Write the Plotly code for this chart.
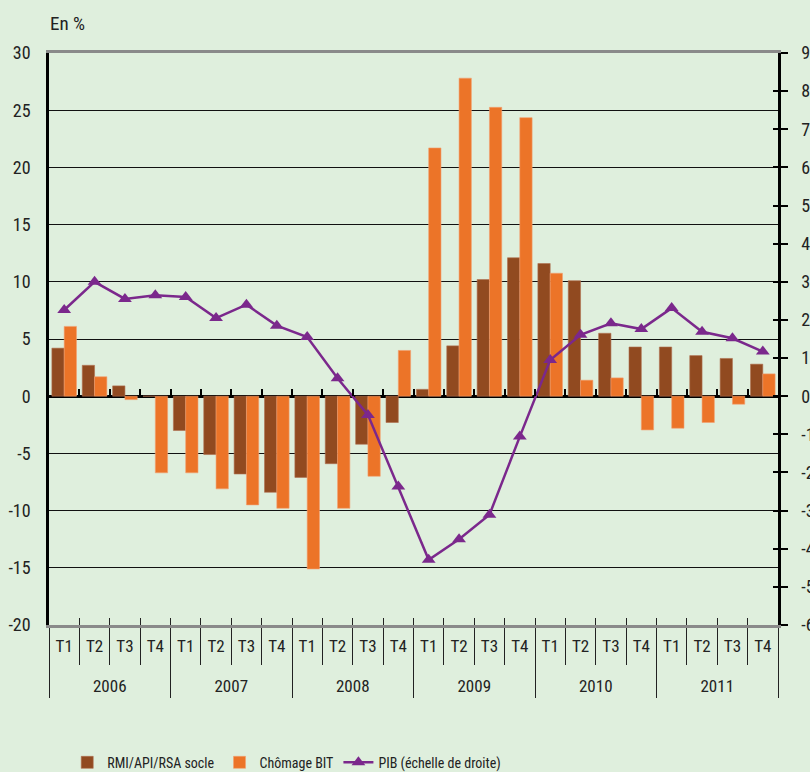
import plotly.graph_objects as go

years = ["2006", "2007", "2008", "2009", "2010", "2011"]
quarters = ["T1", "T2", "T3", "T4"]
x_years = [y for y in years for q in quarters]
x_quarters = [q for y in years for q in quarters]
year_text = {y: "<br>" + y for y in years}

rmi = [4.2, 2.7, 0.9, 0.0,
       -3.0, -5.1, -6.8, -8.4,
       -7.1, -5.9, -4.2, -2.3,
       0.6, 4.4, 10.2, 12.1,
       11.6, 10.1, 5.5, 4.3,
       4.3, 3.55, 3.3, 2.8]
chomage = [6.1, 1.7, -0.3, -6.7,
           -6.7, -8.1, -9.5, -9.8,
           -15.1, -9.8, -7.0, 4.0,
           21.7, 27.8, 25.25, 24.35,
           10.75, 1.4, 1.6, -2.95,
           -2.8, -2.3, -0.7, 1.95]
pib = [2.26, 3.0, 2.55, 2.65,
       2.6, 2.05, 2.4, 1.85,
       1.55, 0.47, -0.49, -2.37,
       -4.29, -3.75, -3.11, -1.06,
       0.95, 1.61, 1.91, 1.76,
       2.31, 1.69, 1.52, 1.17]

left_ticks = list(range(-20, 31, 5))
left_labels = [str(v) for v in left_ticks]
right_ticks = list(range(-6, 10, 1))
right_labels = [str(v) for v in right_ticks]

BG = "#DFEFDD"
BROWN = "#914A20"
ORANGE = "#EC7428"
PURPLE = "#7B288C"
FONT = "Roboto Condensed, Liberation Sans, Arial, sans-serif"

n = len(pib)
xcat = [[year_text[y] for y in x_years], x_quarters]
idx = list(range(n))

fig = go.Figure()
fig.add_trace(go.Bar(x=xcat, y=rmi, name="RMI/API/RSA socle",
                     marker=dict(color=BROWN, line=dict(color="#B07050", width=0.6))))
fig.add_trace(go.Bar(x=xcat, y=chomage, name="Chômage BIT",
                     marker=dict(color=ORANGE, line=dict(color="#F4A070", width=0.6))))
fig.add_trace(go.Scatter(x=xcat, y=pib, name="PIB (échelle de droite)",
                         yaxis="y2", mode="lines+markers",
                         line=dict(color=PURPLE, width=2.5),
                         marker=dict(symbol="triangle-up", size=12, color=PURPLE)))
# invisible helper traces so that the tick-only overlay axes get drawn
fig.add_trace(go.Scatter(x=idx, y=pib, xaxis="x2", yaxis="y2", mode="markers",
                         marker=dict(opacity=0), showlegend=False, hoverinfo="skip"))
fig.add_trace(go.Scatter(x=idx, y=pib, xaxis="x3", yaxis="y3", mode="markers",
                         marker=dict(opacity=0), showlegend=False, hoverinfo="skip"))

fig.update_layout(
    width=810, height=772,
    margin=dict(l=49, r=32, t=53, b=147),
    paper_bgcolor=BG, plot_bgcolor=BG,
    font=dict(family=FONT, size=18, color="#222222"),
    barmode="group", bargap=0.19, bargroupgap=0,
    showlegend=True,
    legend=dict(orientation="h", x=0.025, xanchor="left", yref="container", y=0.012,
                yanchor="middle", font=dict(size=14), bgcolor="rgba(0,0,0,0)",
                itemwidth=30),
    xaxis=dict(type="multicategory", range=[-0.5, n - 0.5], showline=True,
               linecolor="#8A8A8A", linewidth=2.5, mirror=True, ticks="outside",
               tickson="boundaries", ticklen=37, tickcolor="#222222", tickwidth=1.2,
               tickangle=0, ticklabelstandoff=4,
               showdividers=True, dividercolor="#222222", dividerwidth=1.2,
               showgrid=False, tickfont=dict(size=17), automargin=False),
    yaxis=dict(range=[-20, 30], tickvals=left_ticks, ticktext=left_labels, showgrid=True,
               gridcolor="#111111", gridwidth=1, zeroline=True, zerolinecolor="#000000",
               zerolinewidth=2.5, showline=True, linecolor="#000000", linewidth=2.5,
               ticks="", ticklabelstandoff=12, automargin=False),
    yaxis2=dict(range=[-6, 9], tickvals=right_ticks, ticktext=right_labels, overlaying="y",
                side="right", showgrid=False, zeroline=False, showline=True,
                linecolor="#000000", linewidth=2.5, ticks="outside", ticklen=7,
                tickcolor="#000000", tickwidth=1.5, ticklabelstandoff=10, automargin=False),
    yaxis3=dict(range=[-6, 9], tickvals=right_ticks, overlaying="y", anchor="x",
                side="right", showgrid=False, zeroline=False, showline=False,
                ticks="inside", ticklen=5, tickcolor="#000000", tickwidth=1.5,
                showticklabels=False, automargin=False),
    xaxis2=dict(overlaying="x", anchor="free", position=0.4, range=[-0.5, n - 0.5],
                tick0=-0.5, dtick=1, ticks="inside", ticklen=7, tickcolor="#000000",
                tickwidth=1.5, showticklabels=False, showgrid=False, zeroline=False,
                showline=False, automargin=False),
    xaxis3=dict(overlaying="x", anchor="free", position=0.0, range=[-0.5, n - 0.5],
                tick0=-0.5, dtick=1, ticks="inside", ticklen=7, tickcolor="#222222",
                tickwidth=1.2, showticklabels=False, showgrid=False, zeroline=False,
                showline=False, automargin=False),
    annotations=[dict(text="En %", xref="paper", yref="paper", x=0, y=1, xshift=-1,
                      yshift=30, xanchor="left", yanchor="middle", showarrow=False,
                      font=dict(size=19))],
)

fig.write_html("out.html", config={"displayModeBar": False},
               post_script="document.body.style.margin='0';")
